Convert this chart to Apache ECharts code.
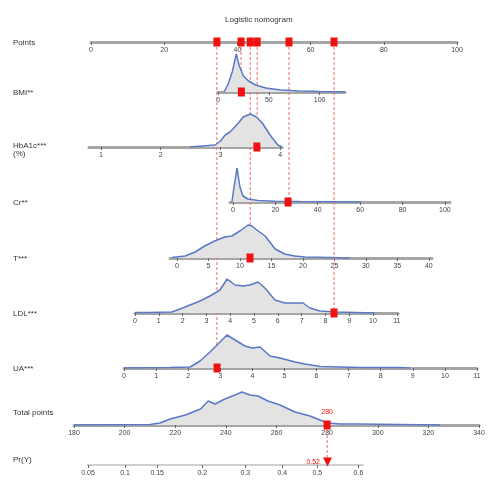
<!DOCTYPE html>
<html>
<head>
<meta charset="utf-8">
<script src="https://cdn.jsdelivr.net/npm/echarts@6/dist/echarts.min.js"></script>
<style>
  html, body { margin: 0; padding: 0; background: #fff; }
  #nomo { width: 500px; height: 500px; }
</style>
</head>
<body>
<div id="nomo"></div>
<script>
// row names, top to bottom
const rowNames = ['Points', 'BMI**', 'HbA1c***\n(%)', 'Cr**', 'T***', 'LDL***', 'UA***', 'Total points', 'Pr(Y)'];

// axis ranges of each row (value units)
const axisMin = [0, 0, 0.8, -1.4, -1.1, 0, 0, 180, 185.5];
const axisMax = [100, 125, 4.03, 102.4, 40.5, 11.05, 11, 340, 294];

// tick values
const ticksPoints = [0, 20, 40, 60, 80, 100];
const ticksBmi = [0, 50, 100];
const ticksHba = [1, 2, 3, 4];
const ticksCr = [0, 20, 40, 60, 80, 100];
const ticksT = [0, 5, 10, 15, 20, 25, 30, 35, 40];
const ticksLdl = [0, 1, 2, 3, 4, 5, 6, 7, 8, 9, 10, 11];
const ticksUa = [0, 1, 2, 3, 4, 5, 6, 7, 8, 9, 10, 11];
const ticksTotal = [180, 200, 220, 240, 260, 280, 300, 320, 340];
// probability ticks sit at total-points positions
const probTickPts = [185.5, 200.1, 212.8, 230.6, 247.6, 262.2, 276, 292.2];
const probLabels = ['0.05', '0.1', '0.15', '0.2', '0.3', '0.4', '0.5', '0.6'];

// densities [value, height]
const densBmi = [[6, 0], [10, 8], [14, 20], [18, 38], [21, 26], [25, 16], [30, 11], [37, 7], [47, 4], [62, 2], [80, 1], [100, 0.5], [125, 0]];
const densHba = [[2.49, 0], [2.7, 1], [2.91, 2], [3.0, 6], [3.08, 12], [3.16, 15], [3.24, 20], [3.3, 24], [3.38, 30], [3.5, 33], [3.6, 30], [3.7, 24], [3.83, 12], [3.96, 2], [4.03, 0]];
const densCr = [[-0.5, 0], [0.5, 15], [1.9, 34], [3.3, 15], [4.7, 6], [7, 3], [11.8, 1.5], [19.8, 0.7], [31.6, 0.4], [45.8, 0.2], [60, 0]];
const densT = [[-0.8, 0.5], [1.3, 2], [2.9, 6], [4.4, 12], [6, 17], [7.6, 21], [8.7, 22], [10, 27], [11.3, 33], [11.9, 32], [12.9, 27], [14, 22], [15.6, 9], [17.1, 4], [18.7, 2], [20.3, 1], [24.3, 0.5], [27.5, 0]];
const densLdl = [[0, 0.5], [0.63, 0.5], [1.55, 1], [1.89, 4], [2.31, 8], [2.73, 12], [3.15, 17], [3.57, 23], [3.87, 34], [4.2, 28], [4.54, 27], [4.83, 28], [5.17, 31], [5.46, 25], [5.88, 13], [6.3, 10], [6.72, 10], [7.06, 10], [7.35, 5], [7.77, 2], [8.4, 1], [9.24, 0.5], [10.08, 0]];
const densUa = [[0, 0], [1.43, 0.5], [2.06, 1], [2.37, 7], [2.68, 16], [2.93, 24], [3.21, 33], [3.46, 28], [3.77, 22], [3.99, 20], [4.24, 21], [4.55, 12], [4.86, 10], [5.33, 6], [5.64, 4], [6.11, 1.5], [6.73, 1], [7.35, 0.5], [8.6, 0.5], [8.9, 0]];
const densTotal = [[180, 0], [210, 0.5], [214, 2], [218, 6], [224, 10], [230, 16], [233, 24], [235.7, 21], [239.6, 26], [243.6, 30], [246.4, 33], [249.5, 30], [252.7, 29], [256.6, 24], [261.4, 20], [267.3, 13], [273.2, 9], [277.2, 5], [280.3, 2], [285, 1], [293, 1], [308.8, 0.5], [316.7, 0.3], [324.6, 0]];

// the case being scored
const caseValues = [23, 3.61, 26, 11.6, 8.36, 2.9];
const casePoints = [41, 45.4, 54.1, 43.5, 66.4, 34.4];
const totalScore = 280;
const probText = '0.52';

// layout: axis baseline y and x extent of each row
const rowY = [42, 92, 147, 202, 258, 313, 368, 425, 465];
const rowX0 = [91, 218, 89, 230, 170, 135, 124, 74, 88];
const rowX1 = [457, 345, 282, 450, 432, 398, 477, 479, 363];

const ticks = [ticksPoints, ticksBmi, ticksHba, ticksCr, ticksT, ticksLdl, ticksUa, ticksTotal, probTickPts];
const dens = [null, densBmi, densHba, densCr, densT, densLdl, densUa, densTotal, null];

const RED = '#f01010';
const BLUE = '#5a78c6';
const H = 40;

const myChart = echarts.init(document.getElementById('nomo'));

const grids = [], xAxes = [], yAxes = [], series = [];
rowNames.forEach(function (name, i) {
  grids.push({ left: rowX0[i], width: rowX1[i] - rowX0[i], top: rowY[i] - H, height: H });
  const isProb = i === 8;
  xAxes.push({
    gridIndex: i,
    type: 'value',
    min: axisMin[i],
    max: axisMax[i],
    axisLine: { show: true, onZero: false, lineStyle: { color: isProb ? '#cfcfcf' : '#a6a6a6', width: isProb ? 2 : 3 } },
    axisTick: { show: true, customValues: ticks[i], length: 3, lineStyle: { color: '#666', width: 1 } },
    axisLabel: {
      customValues: ticks[i],
      fontSize: 7,
      color: '#444',
      margin: 5,
      fontFamily: 'Liberation Sans',
      formatter: isProb ? function (v) { return probLabels[probTickPts.indexOf(v)]; } : null
    },
    splitLine: { show: false }
  });
  yAxes.push({ gridIndex: i, min: 0, max: H, show: false });
  if (dens[i]) {
    series.push({
      type: 'line', xAxisIndex: i, yAxisIndex: i, data: dens[i],
      symbol: 'none', lineStyle: { color: BLUE, width: 1.5 },
      areaStyle: { color: '#e3e3e3', opacity: 1 }, z: 2
    });
  }
});

// points row markers
series.push({
  type: 'scatter', xAxisIndex: 0, yAxisIndex: 0, clip: false,
  data: casePoints.map(function (p) { return [p, 0]; }),
  symbol: 'rect', symbolSize: [7, 9], itemStyle: { color: RED, opacity: 1 }, z: 6
});
// variable row markers
caseValues.forEach(function (v, k) {
  series.push({
    type: 'scatter', xAxisIndex: k + 1, yAxisIndex: k + 1, clip: false,
    data: [[v, 0]], symbol: 'rect', symbolSize: [7, 9], itemStyle: { color: RED, opacity: 1 }, z: 6
  });
});
// total points marker
series.push({
  type: 'scatter', xAxisIndex: 7, yAxisIndex: 7, clip: false,
  data: [[totalScore, 0]], symbol: 'rect', symbolSize: [7, 9], itemStyle: { color: RED, opacity: 1 }, z: 6,
  label: { show: true, position: 'top', distance: 5, formatter: String(totalScore), color: RED, fontSize: 7 }
});
// probability marker
series.push({
  type: 'scatter', xAxisIndex: 8, yAxisIndex: 8, clip: false,
  data: [[totalScore, 0]], symbol: 'triangle', symbolRotate: 180, symbolSize: 9, symbolOffset: [0, -3],
  itemStyle: { color: RED, opacity: 1 }, z: 6,
  label: { show: true, position: 'left', distance: 3, formatter: probText, color: RED, fontSize: 7 }
});

// overlay grid for the dashed guides (pixel units)
grids.push({ left: 0, top: 0, width: 500, height: 500 });
xAxes.push({ gridIndex: 9, min: 0, max: 500, show: false });
yAxes.push({ gridIndex: 9, min: 0, max: 500, inverse: true, show: false });

const graphics = rowNames.map(function (name, i) {
  const twoLine = name.indexOf('\n') >= 0;
  return {
    type: 'text', left: 13, top: rowY[i] - (i === 7 ? 16 : (i === 8 ? 9 : 3)) - (twoLine ? 2 : 0),
    style: { text: name, fontSize: 8, fill: '#333', fontFamily: 'Liberation Sans', lineHeight: 8 }
  };
});

const options = {
  animation: false,
  title: {
    text: 'Logistic nomogram', left: 220, top: 11,
    textStyle: { fontSize: 8, fontWeight: 'normal', color: '#333', fontFamily: 'Liberation Sans' }
  },
  grid: grids,
  xAxis: xAxes,
  yAxis: yAxes,
  graphic: graphics,
  series: series
};
myChart.setOption(options);

// dashed guides, placed with the library's own scales
const guides = [];
caseValues.forEach(function (v, k) {
  const top = myChart.convertToPixel({ gridIndex: 0 }, [casePoints[k], 0]);
  const bot = myChart.convertToPixel({ gridIndex: k + 1 }, [v, 0]);
  guides.push([[top[0], top[1]], [top[0], bot[1]]]);
});
const tTop = myChart.convertToPixel({ gridIndex: 7 }, [totalScore, 0]);
const tBot = myChart.convertToPixel({ gridIndex: 8 }, [totalScore, 0]);
guides.push([[tTop[0], tTop[1]], [tTop[0], tBot[1]]]);

myChart.setOption({
  series: series.concat(guides.map(function (seg) {
    return {
      type: 'line', xAxisIndex: 9, yAxisIndex: 9, data: seg, symbol: 'none', silent: true,
      lineStyle: { color: '#f06a6a', width: 1, type: [3, 2] }, z: 1
    };
  }))
});
</script>
</body>
</html>
